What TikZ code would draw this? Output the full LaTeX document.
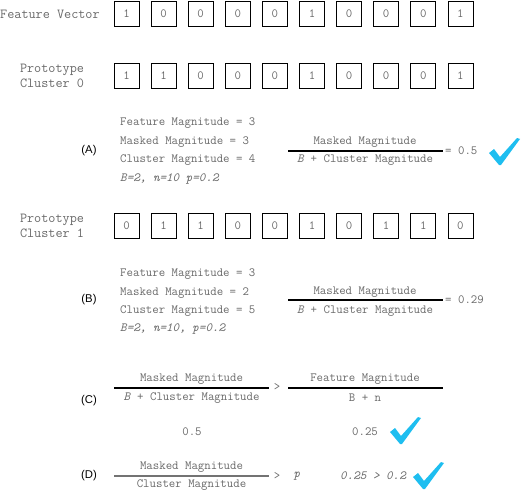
\documentclass[tikz,border=0pt]{standalone}
\usepackage{fontspec}
\setsansfont{Liberation Sans}
\usetikzlibrary{calc}
\definecolor{tickblue}{RGB}{30,190,240}
\definecolor{txtgray}{RGB}{105,105,105}
\def\tickmark(#1,#2){\fill[tickblue, shift={(#1,#2)}] (0,15) -- (5,11) -- (11,19) -- (28,0) -- (31,1) -- (12,27) -- (10,27) -- cycle;}
\tikzset{
	cell/.style={draw, line width=0.8pt, minimum size=25pt, inner sep=0pt, text=txtgray, font=\ttfamily\fontsize{12.5}{14}\selectfont},
	mono/.style={inner sep=0pt, text=txtgray, font=\ttfamily\fontsize{12.5}{14}\selectfont},
	rowlabel/.style={inner sep=0pt, align=center, text=txtgray, font=\ttfamily\fontsize{13.8}{14.5}\selectfont},
	tag/.style={inner sep=0pt, font=\sffamily\fontsize{11.3}{13}\selectfont},
	fracbar/.style={line width=1.2pt}
}

\begin{document}
\begin{tikzpicture}[x=1pt, y=-1pt]
		%%%%% START %%%%%
		\useasboundingbox (0, 0) rectangle (527, 492);
		
		\node[rowlabel, anchor=west] (fvlabel) at (0, 14) {Feature Vector};
		\node[rowlabel] (c0label) at (52, 76) {Prototype\\Cluster 0};
		\node[rowlabel] (c1label) at (52, 226) {Prototype\\Cluster 1};
		
		\foreach \v [count=\i from 0] in {1,0,0,0,0,1,0,0,0,1}
			\node[cell] (fv\i) at (126.5+37.1*\i, 14) {\v};
		\foreach \v [count=\i from 0] in {1,1,0,0,0,1,0,0,0,1}
			\node[cell] (ca\i) at (126.5+37.1*\i, 76) {\v};
		\foreach \v [count=\i from 0] in {0,1,1,0,0,1,0,1,1,0}
			\node[cell] (cb\i) at (126.5+37.1*\i, 225.5) {\v};
		
		% (A)
		\node[tag] (tagA) at (89, 151) {(A)};
		\node[mono, anchor=west] (fmA) at (120, 123) {Feature Magnitude = 3};
		\node[mono, anchor=west] (mmA) at (120, 142) {Masked Magnitude = 3};
		\node[mono, anchor=west] (cmA) at (120, 160) {Cluster Magnitude = 4};
		\node[mono, anchor=west] (parA) at (120, 179) {\itshape B=2, n=10 p=0.2};
		\node[mono] (numA) at (365, 142) {Masked Magnitude};
		\node[mono] (denA) at (365, 160) {\textit{B} + Cluster Magnitude};
		\coordinate (barAl) at (288, 151);
		\coordinate (barAr) at (443, 151);
		\draw[fracbar] (barAl) -- (barAr);
		\node[mono, anchor=west] (resA) at (445, 151) {= 0.5};
		\tickmark(489, 138)
		
		% (B)
		\node[tag] (tagB) at (89, 300) {(B)};
		\node[mono, anchor=west] (fmB) at (120, 274) {Feature Magnitude = 3};
		\node[mono, anchor=west] (mmB) at (120, 293) {Masked Magnitude = 2};
		\node[mono, anchor=west] (cmB) at (120, 311) {Cluster Magnitude = 5};
		\node[mono, anchor=west] (parB) at (120, 329) {\itshape B=2, n=10, p=0.2};
		\node[mono] (numB) at (365, 292) {Masked Magnitude};
		\node[mono] (denB) at (365, 311) {\textit{B} + Cluster Magnitude};
		\coordinate (barBl) at (288, 300);
		\coordinate (barBr) at (443, 300);
		\draw[fracbar] (barBl) -- (barBr);
		\node[mono, anchor=west] (resB) at (445, 300) {= 0.29};
		
		% (C)
		\node[tag] (tagC) at (89, 401) {(C)};
		\node[mono] (numCl) at (191.5, 379) {Masked Magnitude};
		\node[mono] (denCl) at (191.5, 398) {\textit{B} + Cluster Magnitude};
		\coordinate (barCll) at (114, 388);
		\coordinate (barClr) at (269, 388);
		\draw[fracbar] (barCll) -- (barClr);
		\node[mono] (gtC) at (277, 387) {>};
		\node[mono] (numCr) at (365, 379) {Feature Magnitude};
		\node[mono] (denCr) at (365, 398) {B + n};
		\coordinate (barCrl) at (288, 388);
		\coordinate (barCrr) at (443, 388);
		\draw[fracbar] (barCrl) -- (barCrr);
		\node[mono] (valCl) at (192, 432) {0.5};
		\node[mono] (valCr) at (365, 432) {0.25};
		\tickmark(390, 417)
		
		% (D)
		\node[tag] (tagD) at (89, 476) {(D)};
		\node[mono] (numD) at (191.5, 467) {Masked Magnitude};
		\node[mono] (denD) at (191.5, 485) {Cluster Magnitude};
		\coordinate (barDl) at (114, 476);
		\coordinate (barDr) at (269, 476);
		\draw[fracbar, line width=1.6pt, color=black!55] (barDl) -- (barDr);
		\node[mono] (gtD) at (277, 476) {>};
		\node[mono] (pD) at (297, 476) {\itshape p};
		\node[mono, anchor=west] (cmpD) at (340, 476) {\itshape 0.25 > 0.2};
		\tickmark(413, 462)
		
		%%%%% END %%%%%
	\end{tikzpicture}
\end{document}
